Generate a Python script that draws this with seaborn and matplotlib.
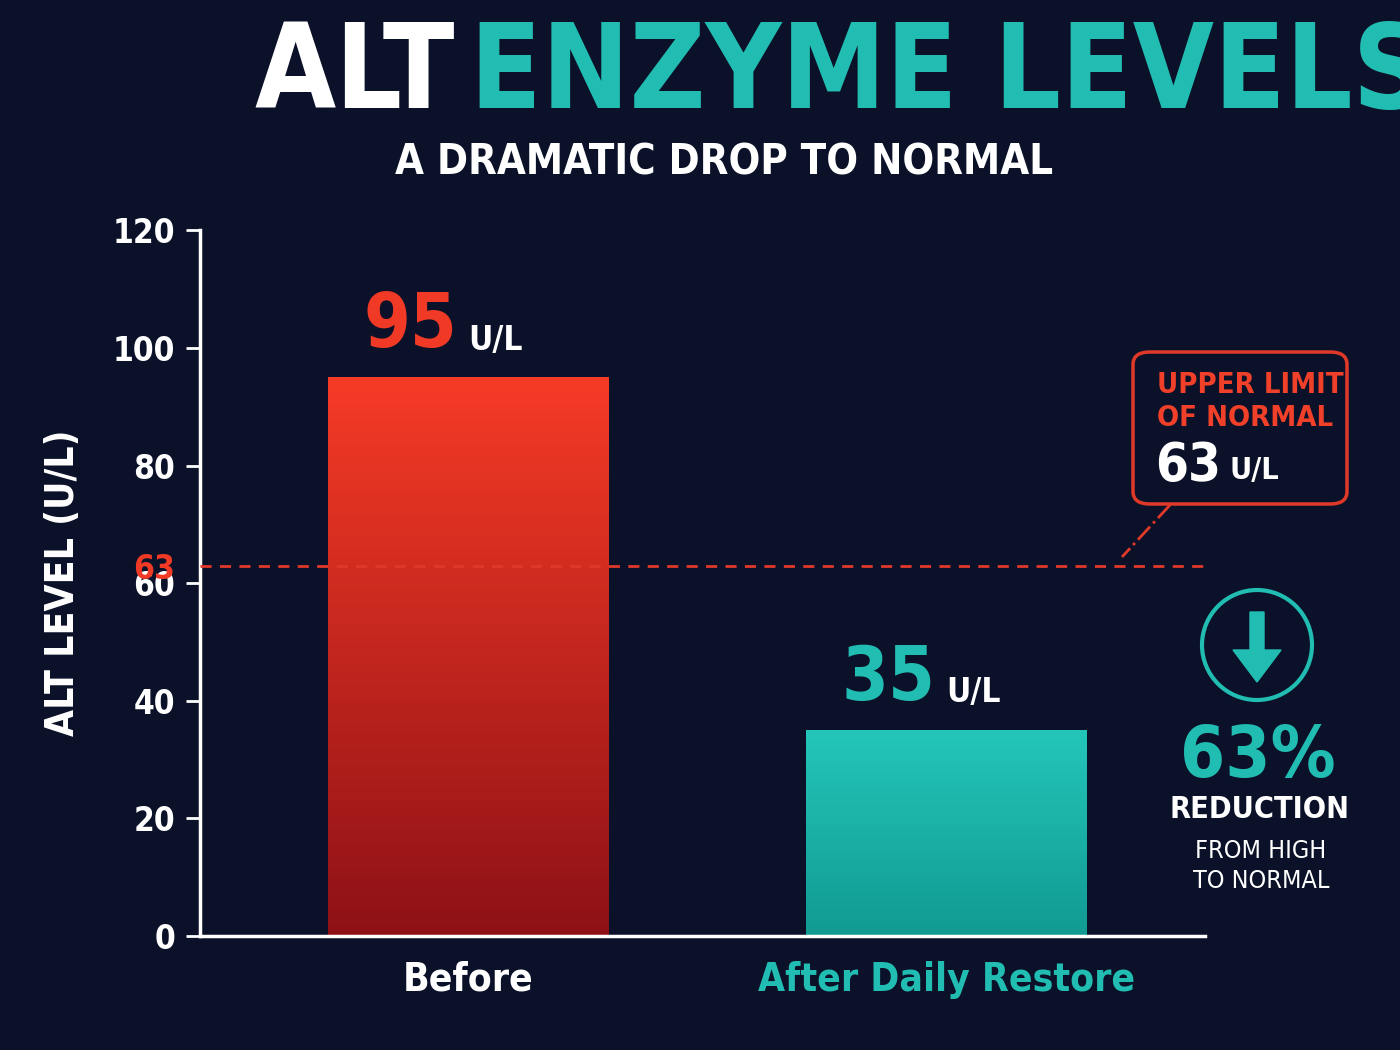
import matplotlib
matplotlib.use("Agg")
import matplotlib.pyplot as plt
import numpy as np
import pandas as pd
import seaborn as sns
from matplotlib.patches import FancyBboxPatch, FancyArrow, Ellipse

# Dados
categorias = ["Before", "After Daily Restore"]
valores = [95, 35]
limite_normal = 63
reducao_pct = 63
yticks = [0, 20, 40, 60, 80, 100, 120]

BG = "#0a1128"
RED = "#f03a25"
TEAL = "#22bdb2"
WHITE = "#ffffff"

sns.set_theme(style="white")
plt.rcParams["font.family"] = ["DejaVu Sans"]
plt.rcParams["font.stretch"] = "condensed"

fig = plt.figure(figsize=(14, 10.5), dpi=100, facecolor=BG)
ax = fig.add_axes([0.143, 0.1086, 0.718, 0.672], facecolor=BG)


def px(x, y):
    return x / 1400, 1 - y / 1050


df = pd.DataFrame({"cat": categorias, "val": valores})
sns.barplot(data=df, x="cat", y="val", hue="cat", palette=[RED, TEAL],
            width=0.586, legend=False, ax=ax, saturation=1)

# gradiente nas barras
gradientes = [("#f63b26", "#8e1116"), ("#24c6ba", "#119a92")]
for patch, (top, bot) in zip(ax.patches, gradientes):
    x0, w, h = patch.get_x(), patch.get_width(), patch.get_height()
    t = np.linspace(0, 1, 256)[:, None, None]
    c1 = np.array(matplotlib.colors.to_rgb(top))
    c2 = np.array(matplotlib.colors.to_rgb(bot))
    img = c1 * (1 - t) + c2 * t
    ax.imshow(img, extent=(x0, x0 + w, 0, h), aspect="auto", zorder=2)
    patch.set_alpha(0)

ax.set_xlim(-0.561, 1.542)
ax.set_ylim(0, 120)
ax.set_xlabel("")
ax.set_ylabel("ALT LEVEL (U/L)", color=WHITE, fontsize=28, fontweight="bold", labelpad=22)
ax.set_yticks(yticks + [limite_normal])
ax.set_yticklabels([str(v) for v in yticks] + [str(limite_normal)])
for lbl in ax.get_yticklabels():
    lbl.set_color(RED if lbl.get_text() == str(limite_normal) else WHITE)
    lbl.set_fontsize(24)
    lbl.set_fontweight("bold")
ax.tick_params(axis="y", length=10, width=2, color=WHITE, pad=8, left=True)
ax.yaxis.get_major_ticks()[-1].tick1line.set_visible(False)
ax.set_xticks([0, 1])
ax.set_xticklabels(categorias, fontsize=28, fontweight="bold")
for lbl, c in zip(ax.get_xticklabels(), [WHITE, TEAL]):
    lbl.set_color(c)
ax.tick_params(axis="x", length=0, pad=18)
for s in ["top", "right"]:
    ax.spines[s].set_visible(False)
for s in ["left", "bottom"]:
    ax.spines[s].set_color(WHITE)
    ax.spines[s].set_linewidth(2.5)

ax.axhline(limite_normal, color="#e0392a", ls=(0, (4, 3)), lw=2, zorder=3)

# rótulos de valor
for i, (v, c) in enumerate(zip(valores, [RED, TEAL])):
    ax.annotate(f"{v}", (i, v), xytext=(-8, 10), textcoords="offset points",
                ha="right", va="bottom", color=c, fontsize=54, fontweight="bold")
    ax.annotate("U/L", (i, v), xytext=(0, 15), textcoords="offset points",
                ha="left", va="bottom", color=WHITE, fontsize=24, fontweight="bold")

# título
fig.text(px(455, 0)[0], px(0, 75)[1], "ALT", color=WHITE, fontsize=84, fontweight="bold",
         ha="right", va="center")
fig.text(px(470, 0)[0], px(0, 75)[1], "ENZYME LEVELS", color=TEAL, fontsize=84,
         fontweight="bold", ha="left", va="center")
fig.text(0.517, px(0, 163)[1], "A DRAMATIC DROP TO NORMAL", color=WHITE, fontsize=30,
         fontweight="bold", ha="center", va="center")

# caixa do limite
box = FancyBboxPatch(px(1133, 504), 214 / 1400, 152 / 1050, transform=fig.transFigure,
                     boxstyle="round,pad=0,rounding_size=0.012", fc=BG, ec="#e0392a", lw=2.5)
fig.patches.append(box)
fig.text(*px(1157, 385), "UPPER LIMIT", color="#f0402a", fontsize=21, fontweight="bold", va="center")
fig.text(*px(1157, 418), "OF NORMAL", color="#f0402a", fontsize=21, fontweight="bold", va="center")
fig.text(*px(1155, 466), "63", color=WHITE, fontsize=38, fontweight="bold", va="center")
fig.text(*px(1229, 470), "U/L", color=WHITE, fontsize=22, fontweight="bold", va="center")
fig.lines.append(plt.Line2D([1170 / 1400, 1122 / 1400], [px(0, 505)[1], px(0, 557)[1]],
                            transform=fig.transFigure, color="#e0392a", lw=2, ls="-."))

# indicador de redução
cx, cy = px(1257, 645)
fig.patches.append(Ellipse((cx, cy), 110 / 1400, 110 / 1050, transform=fig.transFigure,
                           fc="none", ec=TEAL, lw=3))
fig.patches.append(FancyArrow(cx, px(0, 612)[1], 0, -70 / 1050, width=14 / 1400,
                              head_width=48 / 1400, head_length=32 / 1050,
                              length_includes_head=True, transform=fig.transFigure,
                              color=TEAL))
fig.text(*px(1258, 757), f"{reducao_pct}%", color=TEAL, fontsize=52, fontweight="bold",
         ha="center", va="center")
fig.text(*px(1259, 810), "REDUCTION", color=WHITE, fontsize=22, fontweight="bold",
         ha="center", va="center")
fig.text(*px(1261, 851), "FROM HIGH", color=WHITE, fontsize=18, ha="center", va="center")
fig.text(*px(1261, 881), "TO NORMAL", color=WHITE, fontsize=18, ha="center", va="center")

fig.savefig("out.png", dpi=100, facecolor=BG)
